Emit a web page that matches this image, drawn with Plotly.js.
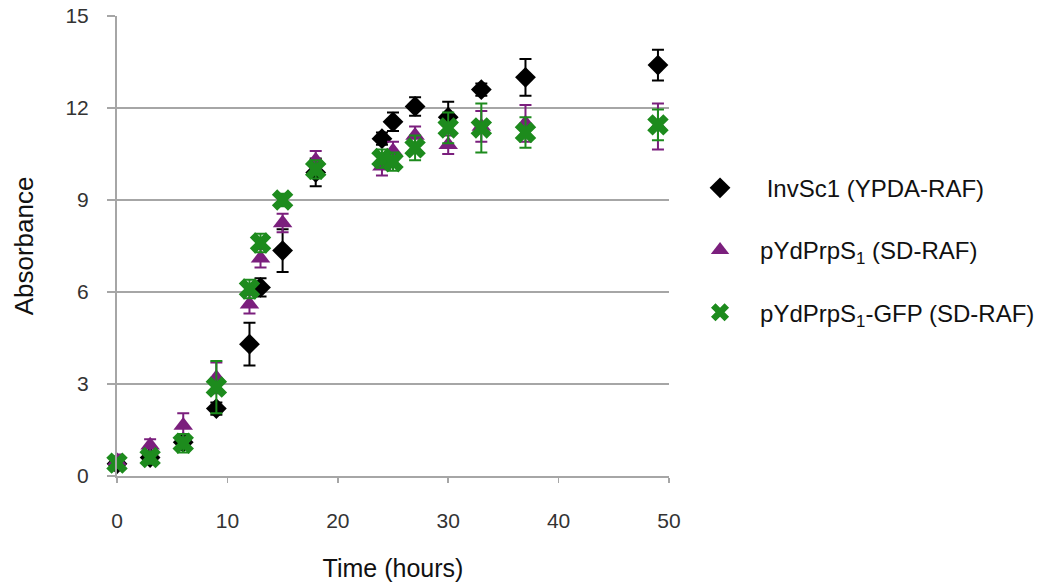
<!DOCTYPE html>
<html>
<head>
<meta charset="utf-8">
<script src="https://cdn.plot.ly/plotly-3.0.1.min.js"></script>
<style>html,body{margin:0;padding:0;background:#fff;}#chart{width:1043px;height:586px;}</style>
</head>
<body>
<div id="chart"></div>
<script>
var times = [0, 3, 6, 9, 12, 13, 15, 18, 24, 25, 27, 30, 33, 37, 49];

var invName = ' InvSc1 (YPDA-RAF)';
var invVals = [0.4, 0.6, 1.1, 2.2, 4.3, 6.15, 7.35, 9.9, 11.0, 11.55, 12.05, 11.7, 12.6, 13.0, 13.4];
var invErr  = [0.15, 0.2, 0.2, 0.2, 0.7, 0.3, 0.7, 0.45, 0.2, 0.3, 0.3, 0.5, 0.2, 0.6, 0.5];

var prpName = 'pYdPrpS<sub>1</sub> (SD-RAF)';
var prpVals = [0.5, 1.0, 1.65, 3.2, 5.6, 7.1, 8.25, 10.3, 10.1, 10.6, 11.1, 10.8, 11.4, 11.5, 11.4];
var prpErr  = [0.2, 0.2, 0.4, 0.5, 0.3, 0.3, 0.3, 0.3, 0.3, 0.3, 0.3, 0.3, 0.5, 0.6, 0.75];

var gfpName = 'pYdPrpS<sub>1</sub>-GFP (SD-RAF)';
var gfpVals = [0.42, 0.6, 1.07, 2.9, 6.1, 7.6, 9.0, 10.0, 10.35, 10.25, 10.7, 11.35, 11.35, 11.2, 11.45];
var gfpErr  = [0.15, 0.2, 0.3, 0.85, 0.3, 0.3, 0.2, 0.3, 0.3, 0.3, 0.4, 0.5, 0.8, 0.5, 0.5];

var xTicks = [0, 10, 20, 30, 40, 50];
var yTicks = [0, 3, 6, 9, 12, 15];

var FONT = '"Liberation Sans", Arial, Helvetica, sans-serif';
var BLACK = '#000000', PURPLE = '#7b1f7d', GREEN = '#1d8b1d', GRID = '#a6a6a6';

function series(name, vals, err, color, symbol, size, group) {
  return {
    type: 'scatter', mode: 'markers', name: name, x: times, y: vals,
    legendgroup: group, cliponaxis: false,
    marker: {color: color, symbol: symbol, size: size, line: {width: 0}},
    error_y: {type: 'data', array: err, visible: true, color: color, thickness: 2, width: 6}
  };
}

var data = [
  series(invName, invVals, invErr, BLACK, 'diamond', 16, 'a'),
  series(prpName, prpVals, prpErr, PURPLE, 'triangle-up', 17, 'b'),
  series(gfpName, gfpVals, gfpErr, GREEN, 'x', 19, 'c')
];

var layout = {
  width: 1043, height: 586,
  margin: {l: 117, r: 374, t: 16, b: 110, autoexpand: false},
  paper_bgcolor: '#ffffff', plot_bgcolor: '#ffffff',
  font: {family: FONT, color: '#222'},
  showlegend: true,
  legend: {
    xref: 'container', yref: 'container',
    x: 0.652, xanchor: 'left', y: 0.573, yanchor: 'middle',
    font: {family: FONT, size: 24, color: '#111'},
    traceorder: 'grouped', tracegroupgap: 28, itemwidth: 70,
    bgcolor: 'rgba(0,0,0,0)'
  },
  xaxis: {
    range: [0, 50], tickvals: xTicks, ticktext: xTicks.map(String),
    showgrid: false, zeroline: false,
    showline: true, linecolor: GRID, linewidth: 2,
    ticks: 'outside', ticklen: 5, tickwidth: 1.5, tickcolor: GRID,
    tickfont: {family: FONT, size: 21, color: '#333'},
    ticklabelstandoff: 20,
    title: {text: 'Time (hours)', font: {family: FONT, size: 25, color: '#111'}, standoff: 28}
  },
  yaxis: {
    range: [0, 15], tickvals: yTicks, ticktext: yTicks.map(String),
    showgrid: true, gridcolor: GRID, gridwidth: 2, zeroline: false,
    showline: true, linecolor: GRID, linewidth: 2,
    ticks: 'outside', ticklen: 8, tickwidth: 2, tickcolor: GRID,
    tickfont: {family: FONT, size: 21, color: '#333'},
    ticklabelstandoff: 14,
    title: {text: 'Absorbance', font: {family: FONT, size: 26, color: '#111'}, standoff: 24}
  }
};

Plotly.newPlot('chart', data, layout, {displayModeBar: false, staticPlot: true});
</script>
</body>
</html>
